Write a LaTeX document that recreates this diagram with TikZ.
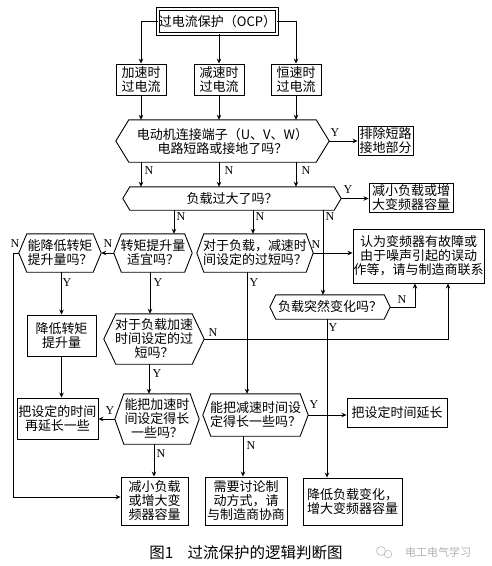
\documentclass[tikz,border=0pt]{standalone}
\usepackage{fontspec}
\setmainfont{Noto Sans CJK SC}
\newfontfamily\latf{Liberation Serif}
\usetikzlibrary{arrows.meta}
\newcommand\hexdraw[2]{\draw[line width=0.9pt] (#1.west) -- ([xshift=#2pt]#1.north west) -- ([xshift=-#2pt]#1.north east) -- (#1.east) -- ([xshift=-#2pt]#1.south east) -- ([xshift=#2pt]#1.south west) -- cycle;}
\begin{document}
\begin{tikzpicture}[x=1pt,y=-1pt,
  every node/.style={font=\fontsize{13}{14}\selectfont},
  box/.style={draw, line width=0.9pt, inner sep=0pt, align=center},
  hx/.style={inner sep=0pt, align=center},
  arr/.style={line width=0.9pt, -{Stealth[length=5pt,width=4.5pt]}},
  ln/.style={line width=0.9pt},
  yn/.style={font=\latf\fontsize{12}{12}\selectfont, inner sep=0pt}]
\useasboundingbox (0,0) rectangle (492,566);

% top
\node[box, minimum width=119pt, minimum height=25pt, double, double distance=2.3pt] (ocp) at (217.5,21.5) {过电流保护（OCP）};
\node[box, minimum width=50pt, minimum height=31pt] (b1) at (141,79.5) {加速时\\过电流};
\node[box, minimum width=50pt, minimum height=31pt] (b2) at (219,79.5) {减速时\\过电流};
\node[box, minimum width=50pt, minimum height=31pt] (b3) at (296,79.5) {恒速时\\过电流};

\node[hx, minimum width=213pt, minimum height=42pt] (h1) at (222.5,141) {电动机连接端子（U、V、W）\\电路短路或接地了吗？};
\hexdraw{h1}{13}
\node[box, minimum width=55pt, minimum height=29pt] (r1) at (385.5,141) {排除短路\\接地部分};

\node[hx, minimum width=218pt, minimum height=23pt] (h2) at (232,198.5) {负载过大了吗？};
\hexdraw{h2}{7}
\node[box, minimum width=84pt, minimum height=29pt] (r2) at (411,198) {减小负载或增\\大变频器容量};

\node[hx, minimum width=82pt, minimum height=38pt] (h3) at (60,253) {能降低转矩\\提升量吗？};
\hexdraw{h3}{8}
\node[hx, minimum width=78pt, minimum height=38pt] (h4) at (153,253) {转矩提升量\\适宜吗？};
\hexdraw{h4}{7.5}
\node[hx, minimum width=116pt, minimum height=38pt] (h5) at (255,253) {对于负载，减速时\\间设定的过短吗？};
\hexdraw{h5}{7}
\node[box, minimum width=131pt, minimum height=54pt] (err) at (418.5,256) {认为变频器有故障或\\由于噪声引起的误动\\作等，请与制造商联系};

\node[hx, minimum width=120pt, minimum height=24pt] (h6) at (330,307) {负载突然变化吗？};
\hexdraw{h6}{6}
\node[box, minimum width=69pt, minimum height=41pt] (r3) at (61.5,335.5) {降低转矩\\提升量};
\node[hx, minimum width=100pt, minimum height=50pt] (h7) at (154,339) {对于负载加速\\时间设定的过\\短吗？};
\hexdraw{h7}{12}

\node[box, minimum width=81pt, minimum height=41pt] (r4) at (57.5,418.5) {把设定的时间\\再延长一些};
\node[hx, minimum width=84pt, minimum height=50pt] (h8) at (157,419) {能把加速时\\间设定得长\\一些吗？};
\hexdraw{h8}{9}
\node[hx, minimum width=105pt, minimum height=42pt] (h9) at (255.5,415) {能把减速时间设\\定得长一些吗？};
\hexdraw{h9}{8}
\node[box, minimum width=100pt, minimum height=29pt] (r5) at (397,412.5) {把设定时间延长};

\node[box, minimum width=67pt, minimum height=48pt] (r6) at (154.5,501) {减小负载\\或增大变\\频器容量};
\node[box, minimum width=82pt, minimum height=48pt] (r7) at (246,501) {需要讨论制\\动方式，请\\与制造商协商};
\node[box, minimum width=99pt, minimum height=47pt] (r8) at (352.5,501.5) {降低负载变化，\\增大变频器容量};

% helper coordinates
\coordinate (xa) at (174,0);
\coordinate (xb) at (253,0);
\coordinate (xc) at (323,0);
\coordinate (xd) at (150,0);
\coordinate (xe) at (247,0);
\coordinate (xf) at (327,0);
\coordinate (xg) at (149,0);
\coordinate (xh) at (154,0);
\coordinate (xi) at (243,0);
\coordinate (xj) at (415,0);
\coordinate (xk) at (448,0);
\coordinate (lft) at (13,253);

% connectors
\draw[arr] (ocp.west) -| (b1.north);
\draw[arr] (ocp.south -| b2.north) -- (b2.north);
\draw[arr] (ocp.east) -| (b3.north);
\draw[arr] (b1.south) -- (b1.south |- h1.north);
\draw[arr] (b2.south) -- (b2.south |- h1.north);
\draw[arr] (b3.south) -- (b3.south |- h1.north);
\draw[arr] (h1.east) -- (r1.west);
\draw[arr] (b1.south |- h1.south) -- (b1.south |- h2.north);
\draw[arr] (b2.south |- h1.south) -- (b2.south |- h2.north);
\draw[arr] (b3.south |- h1.south) -- (b3.south |- h2.north);
\draw[arr] (h2.east) -- (h2.east -| r2.west);
\draw[arr] (h2.south -| xa) -- (h4.north -| xa);
\draw[arr] (h2.south -| xb) -- (h5.north -| xb);
\draw[arr] (h2.south -| xc) -- (h6.north -| xc);
\draw[arr] (h4.west) -- (h3.east);
\draw[arr] (h3.west) -- (lft) |- ([yshift=4pt]r6.west);
\draw[arr] (h3.south -| r3.north) -- (r3.north);
\draw[arr] (r3.south) -- (r3.south |- r4.north);
\draw[arr] (h4.south -| xd) -- (h7.north -| xd);
\draw[arr] (h5.east) -- (h5.east -| err.west);
\draw[arr] (h5.south -| xe) -- (h9.north -| xe);
\draw[arr] (h6.east) -- (h6.east -| xj) -- (xj |- err.south);
\draw[arr] (h6.south -| xf) -- (r8.north -| xf);
\draw[arr] (h7.east) -- (h7.east -| xk) -- (xk |- err.south);
\draw[arr] (h7.south -| xg) -- (h8.north -| xg);
\draw[arr] (h8.west) -- (h8.west -| r4.east);
\draw[arr] (h8.south -| xh) -- (r6.north -| xh);
\draw[arr] (h9.east) -- (h9.east -| r5.west);
\draw[arr] (h9.south -| xi) -- (r7.north -| xi);

% labels
\node[yn] (y1) at (335,133) {Y};
\node[yn] (n1) at (149,171) {N};
\node[yn] (n2) at (229,171) {N};
\node[yn] (n3) at (306,171) {N};
\node[yn] (y2) at (348,190) {Y};
\node[yn] (n4) at (181,217) {N};
\node[yn] (n5) at (260,217) {N};
\node[yn] (n6) at (330,217) {N};
\node[yn] (n7) at (108,244) {N};
\node[yn] (n8) at (15,244) {N};
\node[yn] (y3) at (67,283) {Y};
\node[yn] (y4) at (158,283) {Y};
\node[yn] (n9) at (316,245) {N};
\node[yn] (y5) at (254,283) {Y};
\node[yn] (n10) at (402,300) {N};
\node[yn] (y6) at (333,328) {Y};
\node[yn] (n11) at (213,333) {N};
\node[yn] (y7) at (157,374) {Y};
\node[yn] (y8) at (110,411) {Y};
\node[yn] (n12) at (161,454) {N};
\node[yn] (y9) at (314,405) {Y};
\node[yn] (n13) at (251,446) {N};

% caption
\node[font=\fontsize{15.5}{16}\selectfont] (cap) at (246,553) {图1\hspace{0.9em}过流保护的逻辑判断图};
\draw[gray!55, line width=0.6pt] (381,551) circle (4.5pt);
\draw[gray!55, line width=0.6pt] (388,554) circle (3.8pt);
\node[font=\fontsize{11}{11}\selectfont, text=gray!60] (wm) at (438,552) {电工电气学习};
\end{tikzpicture}
\end{document}
